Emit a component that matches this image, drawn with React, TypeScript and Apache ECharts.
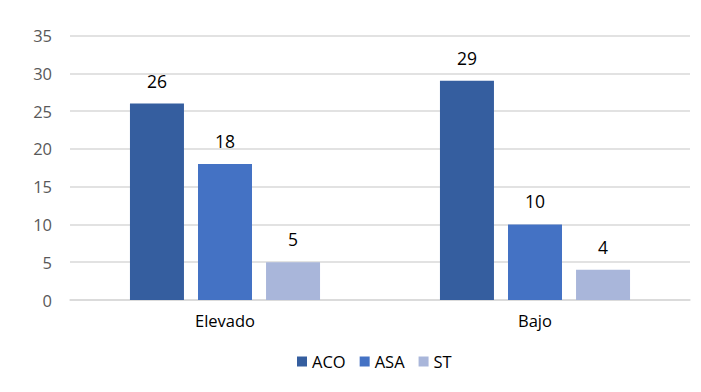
import React, { useEffect, useRef } from "react";
import * as echarts from "echarts";

const categories = ["Elevado", "Bajo"];
const seriesNames = ["ACO", "ASA", "ST"];
const acoValues = [26, 29];
const asaValues = [18, 10];
const stValues = [5, 4];
const colors = ["#355E9F", "#4472C4", "#A9B6DA"];

export default function App() {
  const ref = useRef<HTMLDivElement>(null);
  useEffect(() => {
    const chart = echarts.init(ref.current!, null, { renderer: "svg" });
    const font = "'Open Sans', 'Noto Sans', sans-serif";
    const data = [acoValues, asaValues, stValues];
    chart.setOption({
      animation: false,
      textStyle: { fontFamily: font },
      grid: { left: 70, right: 11, top: 35.5, bottom: 92, containLabel: false },
      legend: {
        bottom: 17,
        left: 292,
        itemWidth: 10,
        itemHeight: 10,
        itemGap: 14,
        icon: "rect",
        textStyle: { fontSize: 16.5, color: "#000", fontFamily: font },
        data: seriesNames,
      },
      xAxis: {
        type: "category",
        data: categories,
        axisLine: { show: true, lineStyle: { color: "#D9D9D9", width: 1.5 } },
        axisTick: { show: false },
        axisLabel: { fontSize: 16.5, color: "#000", margin: 12, fontFamily: font },
      },
      yAxis: {
        type: "value",
        min: 0,
        max: 35,
        interval: 5,
        axisLine: { show: false },
        axisTick: { show: false },
        axisLabel: { fontSize: 16.5, color: "#595959", margin: 18, fontFamily: font },
        splitLine: { lineStyle: { color: "#D9D9D9", width: 1.5 } },
      },
      series: seriesNames.map((name, i) => ({
        name,
        type: "bar",
        data: data[i],
        barWidth: 54,
        barGap: "26%",
        itemStyle: { color: colors[i] },
        label: {
          show: true,
          position: "top",
          distance: 14,
          fontSize: 17.5,
          color: "#000",
          fontFamily: font,
        },
      })),
    });
    return () => chart.dispose();
  }, []);
  return <div ref={ref} style={{ width: 701, height: 392, position: "absolute", left: 0, top: 0 }} />;
}
